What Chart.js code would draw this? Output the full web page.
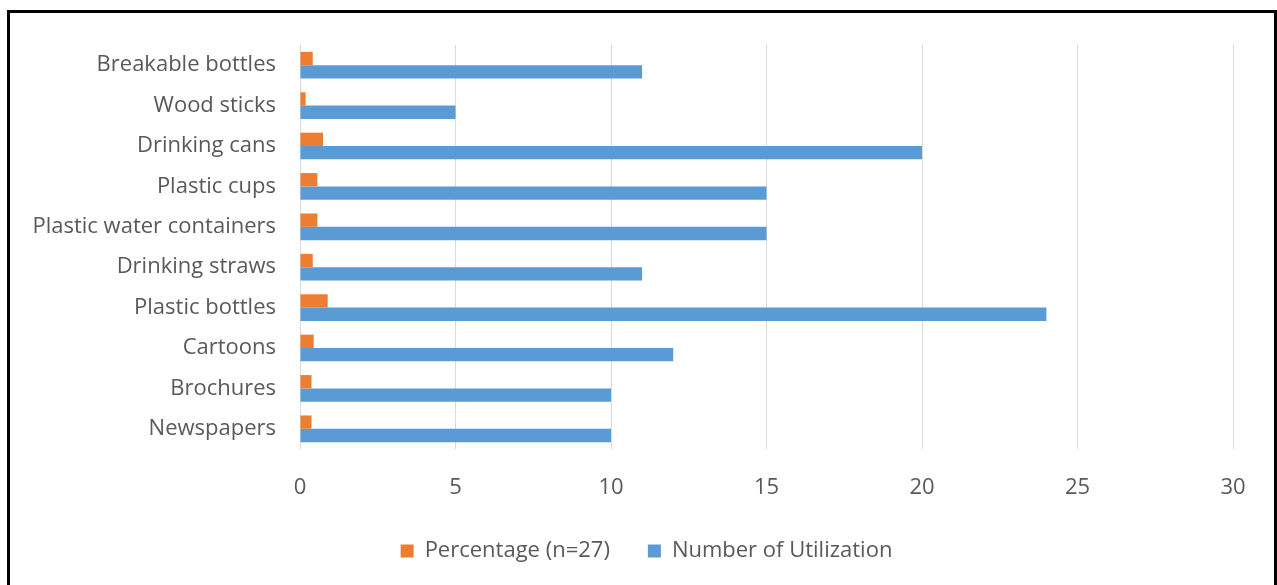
<!DOCTYPE html>
<html>
<head>
<meta charset="utf-8">
<script src="https://cdn.jsdelivr.net/npm/chart.js@4"></script>
<style>
  html, body { margin: 0; padding: 0; background: #fff; overflow: hidden; }
  #cadre { position: absolute; left: 7px; top: 10px; width: 1264px; height: 620px; border: 3px solid #000; }
  #zone { position: absolute; left: 0; top: 0; width: 1277px; height: 585px; }
</style>
</head>
<body>
<div id="cadre"></div>
<div id="zone"><canvas id="graphique"></canvas></div>
<script>
// données
const categories = ["Breakable bottles", "Wood sticks", "Drinking cans", "Plastic cups", "Plastic water containers",
    "Drinking straws", "Plastic bottles", "Cartoons", "Brochures", "Newspapers"];
const pourcentage = [0.41, 0.18, 0.74, 0.56, 0.56, 0.41, 0.89, 0.44, 0.37, 0.37];
const utilisation = [11, 5, 20, 15, 15, 11, 24, 12, 10, 10];
const ticksX = [0, 5, 10, 15, 20, 25, 30];

const police = "'Open Sans', sans-serif";
const gris = "#595959";

// décale la légende pour la centrer comme sur la figure
const decalerLegende = {
    id: "decalerLegende",
    afterLayout(chart) {
        chart.legend.left = 60;
    }
};

const ctx = document.getElementById("graphique").getContext("2d");
new Chart(ctx, {
    type: "bar",
    data: {
        labels: categories,
        datasets: [{
            label: "Percentage (n=27)",
            data: pourcentage,
            backgroundColor: "#ED7D31"
        }, {
            label: "Number of Utilization",
            data: utilisation,
            backgroundColor: "#5B9BD5"
        }]
    },
    options: {
        indexAxis: "y",
        responsive: true,
        maintainAspectRatio: false,
        animation: false,
        layout: { padding: { top: 45, right: 44, bottom: 13, left: 0 } },
        datasets: { bar: { categoryPercentage: 0.66, barPercentage: 1 } },
        plugins: {
            tooltip: { enabled: false },
            legend: {
                position: "bottom",
                labels: {
                    color: gris,
                    font: { family: police, size: 22 },
                    boxWidth: 13,
                    boxHeight: 13,
                    padding: 38
                }
            }
        },
        scales: {
            x: {
                min: 0,
                max: 30,
                afterBuildTicks: (scale) => { scale.ticks = ticksX.map(v => ({ value: v })); },
                afterFit: (scale) => { scale.height = 53; },
                grid: { color: "#D9D9D9", drawTicks: false },
                border: { display: false },
                ticks: { color: gris, font: { family: police, size: 22 }, padding: 26 }
            },
            y: {
                afterFit: (scale) => { scale.width = 300; },
                grid: { display: false, drawTicks: false },
                border: { display: false },
                ticks: { color: gris, font: { family: police, size: 22 }, padding: 24 }
            }
        }
    },
    plugins: [decalerLegende]
});
</script>
</body>
</html>
